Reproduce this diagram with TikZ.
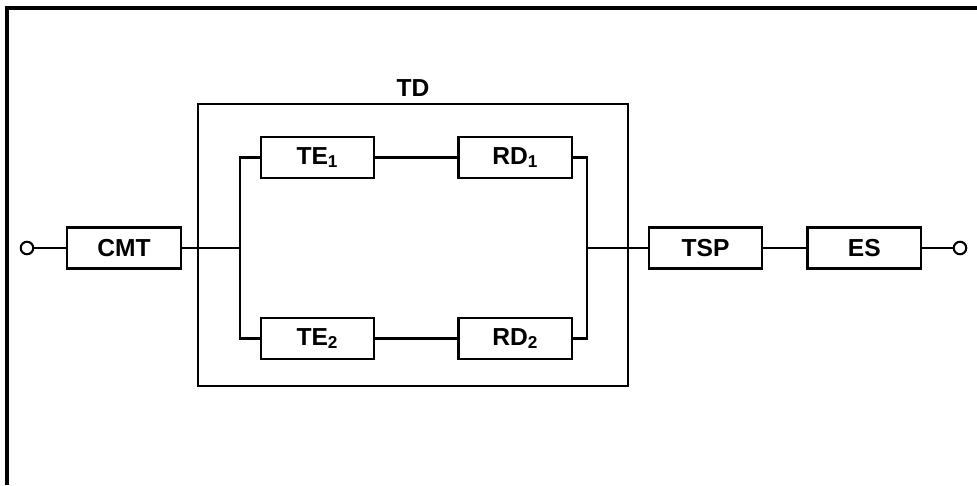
\documentclass[tikz,border=0pt]{standalone}
\usepackage{fontspec}
\setmainfont{Liberation Sans}
\usetikzlibrary{positioning}

\begin{document}
\begin{tikzpicture}[
		x=0.02cm, y=-0.02cm,
		font=\bfseries\fontsize{14}{16}\selectfont,
		block/.style={rectangle, draw, line width=1.3pt, align=center,
			minimum height=0.82cm, minimum width=2.27cm, inner sep=0pt},
		term/.style={circle, draw, line width=1.2pt, fill=white,
			minimum size=0.25cm, inner sep=0pt},
		line/.style={line width=1.3pt},
		thinline/.style={line width=0.7pt},
		frame/.style={line width=1.9pt}
		]
		\useasboundingbox (0,0) rectangle (977,485);
		
		% 1. Marco exterior y caja TD
		\draw[frame] (7,485) -- (7,8) -- (977,8);
		\draw[line] (198,104) rectangle (628,386);
		\node (td) at (413,88) {TD};
		
		% 2. Fila principal
		\node[term] (inl) at (27,248) {};
		\node[block] (cmt) at (124,248) {CMT};
		\node[block] (tsp) at (705.5,248) {TSP};
		\node[block, right=0.86cm of tsp] (es) {ES};
		\node[term] (outr) at (960,248) {};
		
		% 3. Ramas paralelas dentro de TD
		\node[block] (te1) at (317.5,157.5) {TE\textsubscript{1}};
		\node[block, right=1.64cm of te1] (rd1) {RD\textsubscript{1}};
		\node[block] (te2) at (317.5,338.5) {TE\textsubscript{2}};
		\node[block, right=1.64cm of te2] (rd2) {RD\textsubscript{2}};
		\coordinate (jl) at (240,248);
		\coordinate (jr) at (587,248);
		
		% 4. Conexiones
		\draw[line] (inl) -- (cmt);
		\draw[line] (cmt) -- (jl);
		\draw[line] (te1.west) -| (jl) |- (te2.west);
		\draw[line] (rd1.east) -| (jr) |- (rd2.east);
		\draw[line] (te1) -- (rd1);
		\draw[line] (te2) -- (rd2);
		\draw[line] (jr) -- (tsp);
		\draw[thinline] (tsp) -- (es);
		\draw[line] (es) -- (outr);
		
	\end{tikzpicture}
\end{document}
